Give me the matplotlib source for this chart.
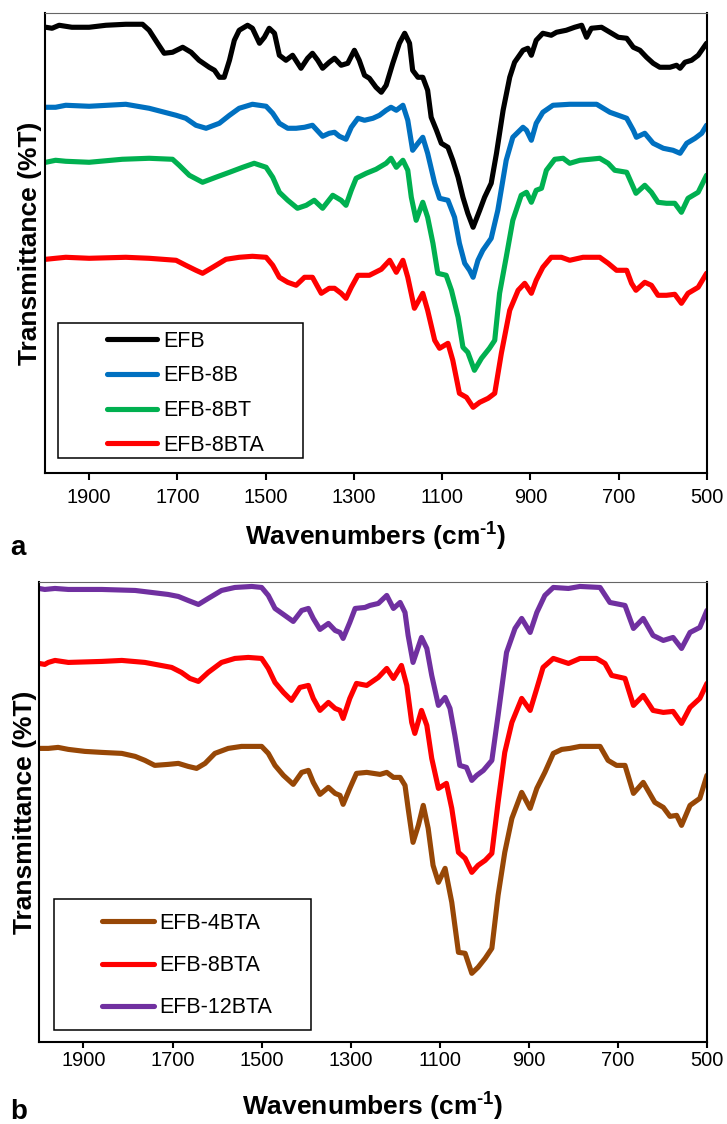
import numpy as np
import matplotlib
matplotlib.use('Agg')
import matplotlib.pyplot as plt
from matplotlib.patches import Rectangle

## FTIR data (transmittance in arbitrary units, stacked spectra)
wn_efb = [1998, 1984, 1968, 1939, 1900, 1862, 1817, 1779, 1764, 1745, 1730, 1711, 1688, 1669, 1651,
          1628, 1616, 1605, 1594, 1582, 1571, 1560, 1541, 1530, 1514, 1503, 1492, 1480, 1469, 1454,
          1439, 1420, 1405, 1394, 1382, 1371, 1356, 1344, 1329, 1314, 1299, 1288, 1276, 1265, 1250,
          1238, 1227, 1212, 1197, 1185, 1174, 1167, 1155, 1144, 1133, 1125, 1113, 1102, 1087, 1076,
          1064, 1053, 1042, 1030, 1015, 1004, 989, 977, 962, 947, 936, 917, 906, 898, 887,
          872, 853, 841, 819, 800, 784, 773, 762, 739, 720, 701, 682, 667, 652, 637,
          622, 607, 584, 569, 561, 550, 535, 520, 501]
t_efb = [446, 445, 448, 446, 446, 448, 449, 449, 443, 430, 420, 421, 426, 421, 413,
         406, 403, 396, 396, 413, 433, 443, 448, 445, 430, 436, 445, 440, 418, 413,
         418, 405, 415, 420, 413, 405, 411, 415, 408, 410, 423, 413, 398, 395, 386,
         381, 388, 410, 430, 440, 430, 403, 396, 396, 383, 356, 343, 330, 326, 313,
         296, 276, 260, 246, 263, 276, 290, 320, 363, 396, 411, 423, 425, 418, 433,
         440, 438, 441, 443, 446, 448, 436, 445, 446, 441, 436, 435, 426, 423, 416,
         410, 406, 406, 408, 405, 411, 413, 418, 430]

wn_8b = [1998, 1976, 1953, 1900, 1817, 1764, 1703, 1681, 1658, 1635, 1605, 1582, 1560, 1530, 1499,
         1484, 1469, 1450, 1431, 1412, 1394, 1371, 1356, 1344, 1333, 1318, 1306, 1291, 1276, 1257,
         1242, 1227, 1216, 1204, 1189, 1178, 1167, 1155, 1144, 1133, 1117, 1106, 1087, 1072, 1061,
         1049, 1038, 1030, 1019, 1008, 989, 974, 955, 940, 917, 909, 898, 887, 872, 849,
         811, 750, 720, 682, 667, 660, 641, 622, 599, 577, 561, 546, 527, 512, 501]
t_8b = [366, 366, 368, 367, 369, 365, 358, 355, 348, 345, 350, 358, 365, 369, 367,
        360, 350, 345, 345, 346, 348, 337, 340, 341, 337, 334, 346, 355, 353, 355,
        358, 363, 366, 363, 368, 353, 323, 330, 336, 320, 290, 275, 273, 256, 230,
        210, 203, 196, 213, 223, 235, 263, 313, 336, 346, 343, 333, 350, 361, 368,
        369, 369, 361, 355, 343, 336, 340, 330, 325, 323, 320, 330, 335, 340, 348]

wn_8bt = [1998, 1976, 1953, 1900, 1825, 1764, 1711, 1696, 1673, 1643, 1613, 1582, 1552, 1526, 1499,
          1484, 1469, 1450, 1428, 1408, 1390, 1371, 1348, 1329, 1318, 1306, 1295, 1272, 1250, 1227,
          1216, 1204, 1189, 1178, 1170, 1159, 1144, 1133, 1121, 1110, 1091, 1079, 1064, 1053, 1042,
          1027, 1011, 993, 981, 970, 955, 940, 921, 909, 898, 887, 875, 864, 845, 826,
          811, 788, 743, 724, 709, 682, 671, 661, 641, 626, 611, 592, 573, 558, 543,
          520, 501]
t_8bt = [311, 313, 312, 311, 314, 315, 314, 308, 298, 291, 296, 301, 306, 310, 306,
         296, 281, 273, 265, 268, 273, 265, 278, 273, 268, 283, 295, 300, 304, 310,
         315, 306, 313, 303, 276, 253, 271, 256, 230, 200, 198, 183, 156, 126, 121,
         103, 115, 125, 133, 180, 216, 253, 278, 281, 271, 283, 285, 303, 314, 315,
         310, 313, 315, 310, 303, 301, 290, 280, 288, 281, 271, 270, 270, 261, 275,
         281, 298]

wn_8bta_a = [1998, 1976, 1953, 1900, 1817, 1764, 1703, 1681, 1658, 1643, 1620, 1590, 1560, 1530, 1499,
             1484, 1469, 1450, 1431, 1412, 1394, 1374, 1356, 1344, 1329, 1318, 1306, 1291, 1265, 1238,
             1219, 1204, 1189, 1178, 1163, 1144, 1133, 1117, 1106, 1087, 1076, 1061, 1045, 1030, 1015,
             996, 981, 966, 947, 928, 913, 898, 887, 872, 853, 830, 811, 781, 743, 724,
             705, 682, 671, 661, 641, 626, 611, 592, 573, 558, 543, 520, 501]
t_8bta_a = [214, 215, 216, 215, 216, 215, 213, 208, 203, 200, 206, 214, 216, 217, 216,
            208, 196, 191, 188, 196, 196, 180, 185, 185, 180, 175, 186, 198, 198, 204,
            213, 201, 213, 196, 165, 180, 163, 133, 125, 130, 113, 80, 76, 66, 71,
            75, 80, 120, 163, 183, 190, 180, 193, 206, 216, 216, 213, 216, 216, 210,
            203, 203, 190, 183, 191, 188, 178, 178, 179, 170, 180, 186, 200]

wn_12bta = [2000, 1987, 1964, 1934, 1859, 1784, 1710, 1687, 1665, 1642, 1620, 1590, 1560, 1522, 1500,
            1485, 1470, 1451, 1429, 1410, 1395, 1384, 1369, 1350, 1335, 1324, 1317, 1302, 1290, 1268,
            1257, 1238, 1219, 1204, 1189, 1178, 1171, 1160, 1141, 1129, 1118, 1103, 1088, 1077, 1066,
            1055, 1040, 1028, 1017, 1002, 983, 969, 950, 931, 916, 897, 882, 864, 845, 811,
            785, 740, 718, 684, 665, 643, 621, 598, 576, 557, 538, 516, 500]
t_12bta = [454, 453, 454, 453, 453, 452, 448, 446, 442, 438, 444, 452, 455, 456, 455,
           447, 434, 428, 421, 432, 434, 424, 413, 419, 412, 410, 404, 420, 434, 435,
           437, 439, 447, 434, 440, 430, 407, 380, 405, 394, 367, 337, 345, 334, 307,
           277, 275, 262, 267, 272, 282, 327, 390, 414, 424, 410, 430, 447, 455, 454,
           456, 455, 440, 437, 414, 424, 407, 402, 405, 394, 410, 415, 432]

wn_8bta_b = [2000, 1987, 1979, 1964, 1934, 1859, 1814, 1762, 1702, 1680, 1661, 1642, 1620, 1590, 1560,
             1530, 1500, 1485, 1470, 1451, 1433, 1414, 1395, 1384, 1369, 1350, 1335, 1324, 1317, 1302,
             1287, 1264, 1238, 1219, 1204, 1186, 1174, 1163, 1156, 1141, 1129, 1118, 1103, 1085, 1073,
             1058, 1043, 1028, 1014, 998, 983, 969, 954, 938, 916, 897, 882, 868, 845, 811,
             785, 748, 729, 714, 684, 665, 643, 621, 598, 576, 557, 538, 516, 500]
t_8bta_b = [379, 378, 380, 382, 380, 381, 382, 380, 375, 370, 364, 361, 370, 380, 384,
            385, 384, 374, 360, 350, 342, 355, 357, 344, 332, 340, 334, 332, 324, 344,
            359, 357, 365, 374, 364, 377, 357, 320, 309, 332, 317, 284, 254, 259, 234,
            190, 184, 170, 177, 182, 189, 240, 290, 320, 344, 332, 354, 375, 384, 379,
            384, 384, 379, 367, 364, 337, 347, 332, 330, 331, 319, 335, 344, 359]

wn_4bta = [2000, 1979, 1957, 1934, 1897, 1859, 1814, 1784, 1762, 1740, 1710, 1687, 1665, 1646, 1627,
           1605, 1575, 1545, 1500, 1485, 1470, 1451, 1429, 1410, 1395, 1384, 1369, 1350, 1335, 1324,
           1317, 1302, 1287, 1264, 1234, 1219, 1204, 1189, 1178, 1171, 1160, 1148, 1137, 1126, 1115,
           1103, 1088, 1073, 1058, 1043, 1028, 1014, 998, 983, 969, 954, 938, 916, 897, 882,
           864, 845, 826, 808, 785, 740, 722, 703, 684, 665, 643, 617, 598, 583, 568,
           557, 538, 516, 500]
t_4bta = [294, 294, 295, 293, 291, 290, 289, 286, 282, 277, 278, 279, 276, 274, 279,
          289, 294, 296, 296, 289, 277, 267, 258, 270, 272, 260, 248, 255, 249, 247,
          238, 254, 269, 270, 268, 270, 265, 265, 257, 234, 200, 217, 237, 214, 177,
          160, 174, 140, 90, 89, 69, 75, 84, 94, 147, 190, 224, 250, 234, 254,
          270, 289, 293, 294, 296, 296, 282, 277, 277, 249, 260, 240, 235, 226, 227,
          217, 237, 244, 267]

ticks_x = [1900, 1700, 1500, 1300, 1100, 900, 700, 500]

## Estilo
plt.rcParams['font.family'] = ['Liberation Sans', 'DejaVu Sans']
plt.rcParams['mathtext.fontset'] = 'custom'
plt.rcParams['mathtext.rm'] = 'Liberation Sans:bold'
plt.rcParams['mathtext.bf'] = 'Liberation Sans:bold'

fig = plt.figure(figsize=(7.27, 11.24), dpi=100)
ax_a = fig.add_axes([0.0619, 0.5789, 0.9106, 0.4093])
ax_b = fig.add_axes([0.0536, 0.0727, 0.9188, 0.4091])

lw = 3.7
kw = dict(linewidth=lw, solid_joinstyle='round', solid_capstyle='round')

ax_a.plot(wn_efb, t_efb, color='#000000', label='EFB', **kw)
ax_a.plot(wn_8b, t_8b, color='#0070C0', label='EFB-8B', **kw)
ax_a.plot(wn_8bt, t_8bt, color='#00B050', label='EFB-8BT', **kw)
ax_a.plot(wn_8bta_a, t_8bta_a, color='#FF0000', label='EFB-8BTA', **kw)

ax_b.plot(wn_4bta, t_4bta, color='#974706', label='EFB-4BTA', **kw)
ax_b.plot(wn_8bta_b, t_8bta_b, color='#FF0000', label='EFB-8BTA', **kw)
ax_b.plot(wn_12bta, t_12bta, color='#7030A0', label='EFB-12BTA', **kw)

xlab = r'Wavenumbers (cm$^{\text{-1}}$)'
for ax, pad, tlen in [(ax_a, 5.5, 5), (ax_b, 1.5, 4.5)]:
    ax.set_xlim(2000, 500)
    ax.set_ylim(0, 460)
    ax.set_xticks(ticks_x)
    ax.set_yticks([])
    ax.tick_params(axis='x', direction='out', length=tlen, width=1.5, pad=pad,
                   labelsize=14.4, top=False)
    for s in ['left', 'bottom', 'right']:
        ax.spines[s].set_linewidth(1.5)
        ax.spines[s].set_color('black')
    ax.spines['top'].set_linewidth(0.8)
    ax.spines['top'].set_color('#666666')
    ax.set_xlabel(xlab, fontsize=19, fontweight='bold')
    ax.set_ylabel('Transmittance (%T)', fontsize=19, fontweight='bold')

ax_a.xaxis.set_label_coords(0.5, -0.100)
ax_b.xaxis.set_label_coords(0.5, -0.102)
ax_a.yaxis.set_label_coords(-0.004, 0.5)
ax_b.yaxis.set_label_coords(-0.003, 0.5)

## Legendas
ax_a.add_patch(Rectangle((0.0196, 0.0333), 0.370, 0.2935, transform=ax_a.transAxes,
                         facecolor='white', edgecolor='black', linewidth=1.1, zorder=4))
leg_a = ax_a.legend(loc='center left', bbox_to_anchor=(0.0937, 0.1740), frameon=False,
                    fontsize=15.5, handlelength=2.3, handletextpad=0.32, labelspacing=0.64,
                    borderpad=0, borderaxespad=0)
leg_a.set_zorder(5)

ax_b.add_patch(Rectangle((0.0225, 0.0267), 0.3847, 0.2848, transform=ax_b.transAxes,
                         facecolor='white', edgecolor='black', linewidth=1.1, zorder=4))
leg_b = ax_b.legend(loc='center left', bbox_to_anchor=(0.0943, 0.1667), frameon=False,
                    fontsize=15.5, handlelength=2.4, handletextpad=0.26, labelspacing=0.98,
                    borderpad=0, borderaxespad=0)
leg_b.set_zorder(5)

fig.text(10 / 727, (1124 - 555) / 1124, 'a', fontsize=20, fontweight='bold', ha='left', va='baseline')
fig.text(10 / 727, (1124 - 1119) / 1124, 'b', fontsize=20, fontweight='bold', ha='left', va='baseline')

fig.savefig('out.png', dpi=100)
